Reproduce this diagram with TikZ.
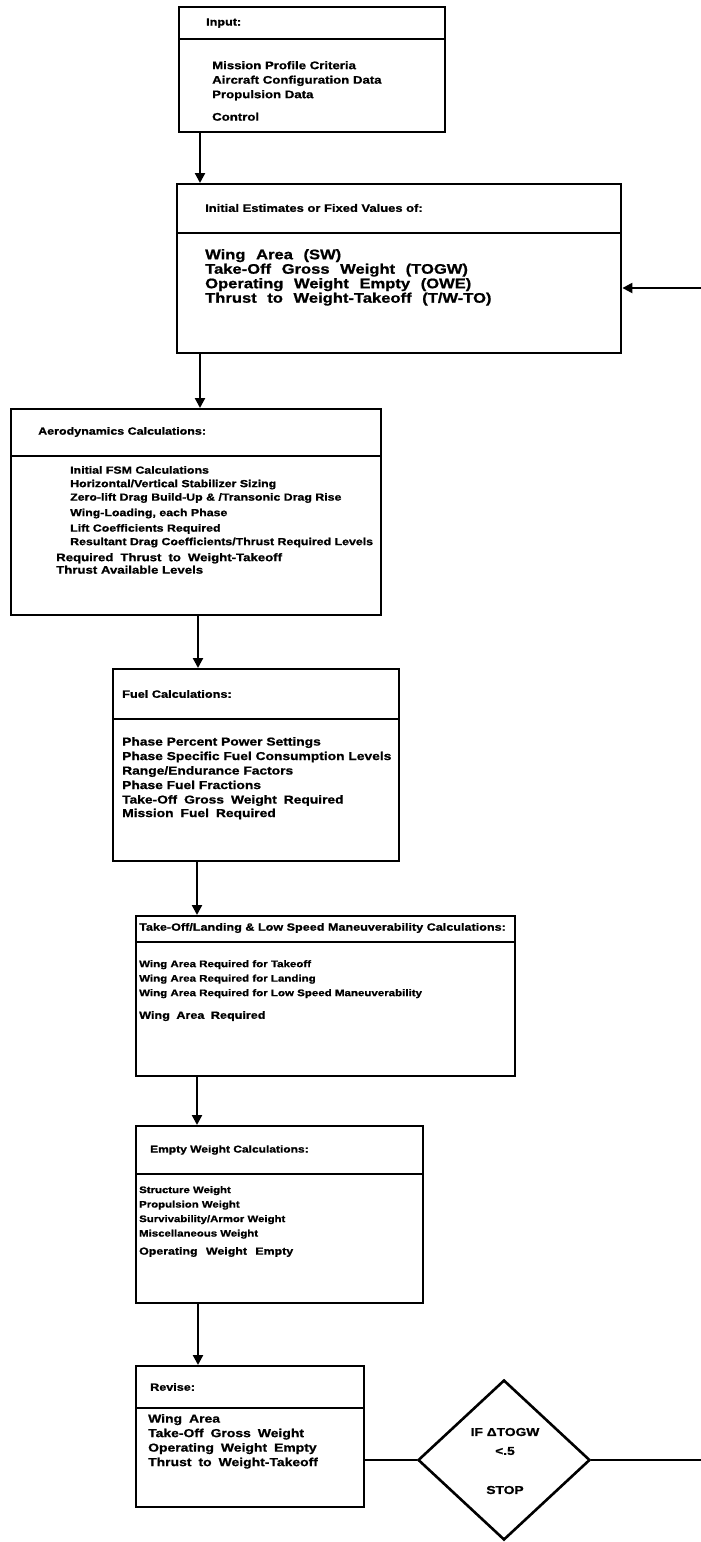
\documentclass[tikz,border=0pt]{standalone}
\usepackage{fontspec}
\setmainfont{Liberation Sans}[FakeStretch=1.2,BoldFeatures={FakeBold=1}]
\usetikzlibrary{arrows.meta,shapes.geometric}
\newcommand{\wsp}{\hspace{7pt}}
\newcommand{\fz}[1]{\bfseries\fontsize{#1}{14.5}\selectfont}
\begin{document}
\begin{tikzpicture}[x=1pt,y=-1pt,
  box/.style={draw,line width=2.4pt,rectangle,anchor=north west,inner sep=0pt},
  divider/.style={line width=2.4pt},
  ttl/.style={anchor=west,inner sep=0pt},
  body/.style={anchor=north west,align=left,inner sep=0pt},
  flow/.style={line width=2.2pt,-{Triangle[length=10pt,width=10pt]}},
  link/.style={line width=2.2pt},
  cond/.style={diamond,draw,line width=2.6pt,minimum width=172pt,minimum height=160pt,inner sep=0pt},
  dtext/.style={font=\fz{11.5},inner sep=0pt}
]
\useasboundingbox[fill=white] (0,0) rectangle (701,1542);

% Box 1: Input
\node[box,minimum width=266pt,minimum height=125pt] (b1) at (178,6) {};
\draw[divider] (b1.west |- 0,39) -- (b1.east |- 0,39);
\node[ttl,font=\fz{10.5}] (t1) at (206,23) {Input:};
\node[body,font=\fz{11}] (x1) at (212,61) {Mission Profile Criteria\\Aircraft Configuration Data\\Propulsion Data\\[8pt]Control};

% Box 2: Initial estimates
\node[box,minimum width=444pt,minimum height=169pt] (b2) at (176,183) {};
\draw[divider] (b2.west |- 0,233) -- (b2.east |- 0,233);
\node[ttl,font=\fz{10.8}] (t2) at (205,208) {Initial Estimates or Fixed Values of:};
\node[body,font=\fz{13.8}] (x2) at (205,249) {Wing\hspace{6pt} Area\hspace{6pt} (SW)\\Take-Off\hspace{6pt} Gross\hspace{6pt} Weight\hspace{6pt} (TOGW)\\Operating\hspace{6pt} Weight\hspace{6pt} Empty\hspace{6pt} (OWE)\\Thrust\hspace{6pt} to\hspace{6pt} Weight-Takeoff\hspace{6pt} (T/W-TO)};

% Box 3: Aerodynamics
\node[box,minimum width=370pt,minimum height=206pt] (b3) at (10,408) {};
\draw[divider] (b3.west |- 0,456) -- (b3.east |- 0,456);
\node[ttl,font=\fz{10.4}] (t3) at (38,432) {Aerodynamics Calculations:};
\node[body,font=\fz{10.3}] (x3) at (70,466) {Initial FSM Calculations\\[-1pt]Horizontal/Vertical Stabilizer Sizing\\[-1pt]Zero-lift Drag Build-Up \& /Transonic Drag Rise\\[1pt]Wing-Loading, each Phase\\[1pt]Lift Coefficients Required\\[-1pt]Resultant Drag Coefficients/Thrust Required Levels};
\node[body,font=\bfseries\fontsize{11}{12.5}\selectfont] (y3) at (56,553) {Required\wsp Thrust\wsp to\wsp Weight-Takeoff\\Thrust Available Levels};

% Box 4: Fuel
\node[box,minimum width=286pt,minimum height=192pt] (b4) at (112,668) {};
\draw[divider] (b4.west |- 0,719) -- (b4.east |- 0,719);
\node[ttl,font=\fz{10.6}] (t4) at (122,694) {Fuel Calculations:};
\node[body,font=\fz{11.5}] (x4) at (122,737) {Phase Percent Power Settings\\Phase Specific Fuel Consumption Levels\\Range/Endurance Factors\\Phase Fuel Fractions\\Take-Off\wsp Gross\wsp Weight\wsp Required\\[-1pt]Mission\wsp Fuel\wsp Required};

% Box 5: Take-off/landing
\node[box,minimum width=379pt,minimum height=160pt] (b5) at (135,915) {};
\draw[divider] (b5.west |- 0,942) -- (b5.east |- 0,942);
\node[ttl,font=\fz{10.5}] (t5) at (139,928) {Take-Off/Landing \& Low Speed Maneuverability Calculations:};
\node[body,font=\fz{9.6}] (x5) at (139,960) {Wing Area Required for Takeoff\\Wing Area Required for Landing\\Wing Area Required for Low Speed Maneuverability};
\node[body,font=\fz{10.5}] (y5) at (139,1011) {Wing\hspace{3pt} Area\hspace{3pt} Required};

% Box 6: Empty weight
\node[box,minimum width=287pt,minimum height=177pt] (b6) at (135,1125) {};
\draw[divider] (b6.west |- 0,1174) -- (b6.east |- 0,1174);
\node[ttl,font=\fz{10}] (t6) at (150,1150) {Empty Weight Calculations:};
\node[body,font=\fz{9.5}] (x6) at (139,1186) {Structure Weight\\Propulsion Weight\\Survivability/Armor Weight\\Miscellaneous Weight};
\node[body,font=\fz{10.3}] (y6) at (139,1247) {Operating\hspace{5pt} Weight\hspace{5pt} Empty};

% Box 7: Revise
\node[box,minimum width=228pt,minimum height=141pt] (b7) at (135,1365) {};
\draw[divider] (b7.west |- 0,1408) -- (b7.east |- 0,1408);
\node[ttl,font=\fz{10.5}] (t7) at (150,1387) {Revise:};
\node[body,font=\fz{11.6}] (x7) at (148,1414) {Wing\wsp Area\\Take-Off\wsp Gross\wsp Weight\\Operating\wsp Weight\wsp Empty\\Thrust\wsp to\wsp Weight-Takeoff};

% Decision
\node[cond] (d) at (504,1460) {};
\node[dtext] (d1) at (505,1432) {IF ΔTOGW};
\node[dtext] (d2) at (505,1451) {<.5};
\node[dtext] (d3) at (505,1490) {STOP};

% Connectors
\draw[flow] (b1.south west -| 200,0) -- (b2.north west -| 200,0);
\draw[flow] (b2.south west -| 200,0) -- (b3.north west -| 200,0);
\draw[flow] (b3.south west -| 198,0) -- (b4.north west -| 198,0);
\draw[flow] (b4.south west -| 197,0) -- (b5.north west -| 197,0);
\draw[flow] (b5.south west -| 197,0) -- (b6.north west -| 197,0);
\draw[flow] (b6.south west -| 198,0) -- (b7.north west -| 198,0);
\draw[link] (b7.east |- d.west) -- (d.west);
\coordinate (r1) at (701,1460);
\coordinate (r2) at (701,288);
\draw[link] (d.east) -- (r1);
\draw[flow] (r2) -- (b2.east |- r2);
\end{tikzpicture}
\end{document}
